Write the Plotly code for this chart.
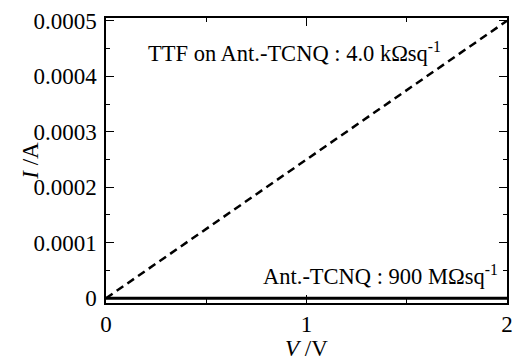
import plotly.graph_objects as go

v_ttf = [0, 2]
i_ttf = [0, 0.0005]
v_ant = [0, 2]
i_ant = [0, 2 / 9e8]

x_tickvals = [0, 1, 2]
x_ticktext = ["0", "1", "2"]
y_tickvals = [0, 0.0001, 0.0002, 0.0003, 0.0004, 0.0005]
y_ticktext = ["0", "0.0001", "0.0002", "0.0003", "0.0004", "0.0005"]

label_ttf = "TTF on Ant.-TCNQ : 4.0 kΩsq<sup>-1</sup>"
label_ant = "Ant.-TCNQ : 900 MΩsq<sup>-1</sup>"

font = "Liberation Serif"

fig = go.Figure()
fig.add_trace(go.Scatter(x=v_ant, y=i_ant, mode="lines",
                         line=dict(color="black", width=3), showlegend=False))
fig.add_trace(go.Scatter(x=v_ttf, y=i_ttf, mode="lines",
                         line=dict(color="black", width=2.5, dash="8px,5px"),
                         showlegend=False))

axis_common = dict(
    showgrid=False, zeroline=False, showline=True, linecolor="black",
    linewidth=1.5, mirror="allticks", ticks="inside", ticklen=8,
    tickwidth=1.2, tickcolor="black",
    tickfont=dict(family=font, size=23, color="black"),
)

fig.update_xaxes(range=[0, 2], tickvals=x_tickvals, ticktext=x_ticktext,
                 minor=dict(tickvals=[0.5, 1.5], ticklen=4, ticks="inside",
                            tickcolor="black", tickwidth=1.2),
                 **axis_common)
fig.update_yaxes(range=[-0.0000086, 0.000505], tickvals=y_tickvals, ticktext=y_ticktext,
                 minor=dict(tickvals=[0.00005, 0.00015, 0.00025, 0.00035, 0.00045],
                            ticklen=4, ticks="inside", tickcolor="black", tickwidth=1.2),
                 ticklabelstandoff=3,
                 **axis_common)

# axis titles
fig.add_annotation(x=0.5, y=-0.16, xref="paper", yref="paper", text="<i>V</i> /V",
                   showarrow=False, xanchor="center", yanchor="middle",
                   font=dict(family=font, size=23, color="black"))
fig.add_annotation(x=-0.189, y=0.5, xref="paper", yref="paper", text="<i>I</i> /A",
                   showarrow=False, xanchor="center", yanchor="middle", textangle=-90,
                   font=dict(family=font, size=23, color="black"))

fig.add_annotation(x=0.94, y=0.000443, xref="x", yref="y", text=label_ttf,
                   showarrow=False, xanchor="center", yanchor="middle",
                   font=dict(family=font, size=22.5, color="black"))
fig.add_annotation(x=1.965, y=0.0000414, xref="x", yref="y", text=label_ant,
                   showarrow=False, xanchor="right", yanchor="middle",
                   font=dict(family=font, size=22.5, color="black"))

fig.update_layout(width=522, height=363, margin=dict(l=106, r=9, t=13, b=60),
                  font=dict(family=font, color="black"),
                  plot_bgcolor="white", paper_bgcolor="white")

fig.write_html("out.html", config={"displayModeBar": False},
               post_script="document.body.style.margin='0px';")
